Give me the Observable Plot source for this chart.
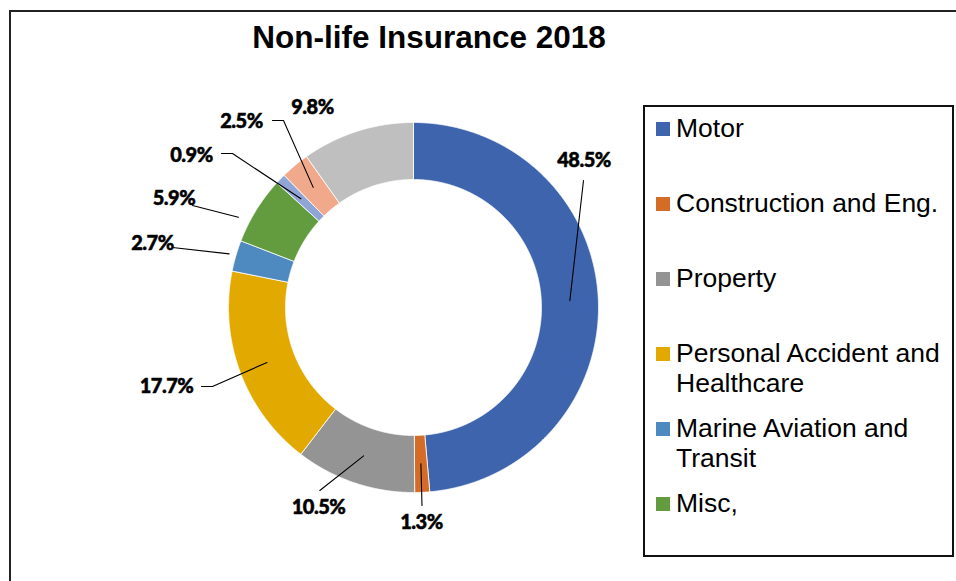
<!DOCTYPE html>
<html>
<head>
<meta charset="utf-8">
<script src="https://cdn.jsdelivr.net/npm/d3@7"></script>
<script src="https://cdn.jsdelivr.net/npm/@observablehq/plot@0.6"></script>
<style>
  html, body { margin: 0; padding: 0; background: #fff; }
  body { width: 956px; height: 581px; overflow: hidden; position: relative; font-family: "Liberation Sans", Arial, sans-serif; }
  #frame { position: absolute; left: 9px; top: 10px; width: 1000px; height: 700px; border-left: 2px solid #222; border-top: 2px solid #222; }
  #chart { position: absolute; left: 0; top: 0; }
  #chart g[aria-label="text"] text { letter-spacing: -0.5px; }
  #title { position: absolute; left: 0; top: 19px; width: 858px; text-align: center; font-weight: bold; font-size: 31.5px; line-height: 36px; color: #000; white-space: nowrap; }
  #legend { position: absolute; left: 643px; top: 105px; width: 311px; height: 452px; border: 2px solid #111; box-sizing: border-box; background: #fff; }
  .item { position: absolute; left: 31px; width: 274px; font-size: 26.5px; line-height: 30px; color: #000; }
  .sw { position: absolute; left: -20px; top: 9px; width: 14px; height: 14px; }
</style>
</head>
<body>
<div id="frame"></div>
<div id="chart"></div>
<div id="title">Non-life Insurance 2018</div>
<div id="legend"></div>
<script>
// ---- data ----
const categories = [
  "Motor",
  "Construction and Eng.",
  "Property",
  "Personal Accident and Healthcare",
  "Marine Aviation and Transit",
  "Misc,",
  "Category 7",
  "Category 8",
  "Category 9"
];
const values = [48.5, 1.3, 10.5, 17.7, 2.7, 5.9, 0.9, 2.5, 9.8];
const legendCount = 6; // legend box shows only the first six entries

// ---- styles ----
const palette = ["#3D64AD", "#D46B27", "#949494", "#E2AA00", "#4E89BF", "#629C3E", "#8FA5D6", "#F1A98B", "#BFBFBF"];
const R_OUT = 185, R_IN = 128, R_MID = (R_OUT + R_IN) / 2;

// label layout (pixel offsets from donut centre): text centre, leader bend points, anchor radius / angle tweak
const labelLayout = [
  {t: [170.5, -146.5], path: [[170, -127]], r: R_MID, da: 0},
  {t: [8, 215.5], path: [[8.5, 198]], r: R_MID, da: 0},
  {t: [-95, 200.5], path: [[-93.7, 183]], r: R_MID, da: 0},
  {t: [-247, 79.5], path: [[-212, 79], [-201, 79]], r: R_MID, da: 0},
  {t: [-261, -63.5], path: [[-241, -60]], r: 192, da: 0},
  {t: [-239.5, -109], path: [[-221, -102]], r: 197, da: -4.5},
  {t: [-222, -152], path: [[-192, -154], [-181, -154]], r: R_MID, da: 0},
  {t: [-172, -185.5], path: [[-141, -187], [-130, -187]], r: R_MID, da: 0},
  {t: [-101, -199.5], path: [], r: null, da: 0}
];

const rows = categories.map((c, i) => ({cat: c, value: values[i]}));
const arcs = d3.pie().sort(null).value(d => d.value)(rows);

const polar = (r, a) => ({x: r * Math.sin(a), y: -r * Math.cos(a)});

const ring = arcs.flatMap(p => {
  const n = Math.max(2, Math.ceil((p.endAngle - p.startAngle) / 0.004));
  const pts = [];
  for (let k = 0; k <= n; k++) pts.push({cat: p.data.cat, ...polar(R_OUT, p.startAngle + (p.endAngle - p.startAngle) * k / n)});
  for (let k = n; k >= 0; k--) pts.push({cat: p.data.cat, ...polar(R_IN, p.startAngle + (p.endAngle - p.startAngle) * k / n)});
  pts.push({...pts[0]});
  return pts;
});

const labels = arcs.map((p, i) => ({
  cat: p.data.cat,
  text: p.data.value.toFixed(1) + "%",
  x: labelLayout[i].t[0],
  y: labelLayout[i].t[1]
}));

const leaders = arcs.flatMap((p, i) => {
  const L = labelLayout[i];
  if (!L.path.length) return [];
  const mid = (p.startAngle + p.endAngle) / 2 + L.da * Math.PI / 180;
  const a = polar(L.r, mid);
  return [...L.path.map(([x, y]) => ({id: i, x, y})), {id: i, x: a.x, y: a.y}];
});

const chart = Plot.plot({
  width: 956,
  height: 581,
  margin: 0,
  style: {background: "none", overflow: "visible"},
  x: {domain: [-413, 543], range: [0, 956], axis: null},
  y: {domain: [-307, 274], range: [0, 581], axis: null},
  color: {domain: categories, range: palette},
  marks: [
    Plot.line(ring, {x: "x", y: "y", z: "cat", fill: "cat", stroke: "white", strokeWidth: 0.8, curve: "linear"}),
    Plot.line(leaders, {x: "x", y: "y", z: "id", stroke: "#000", strokeWidth: 1.1, curve: "linear"}),
    Plot.text(labels, {x: "x", y: "y", text: "text", fill: "#000", stroke: "#000", strokeWidth: 0.5, fontSize: 20, fontWeight: 900, fontFamily: "Lato, 'Open Sans', sans-serif", textAnchor: "middle", lineAnchor: "middle"})
  ]
});
document.getElementById("chart").appendChild(chart);

// ---- legend ----
const legend = document.getElementById("legend");
categories.slice(0, legendCount).forEach((c, i) => {
  const item = document.createElement("div");
  item.className = "item";
  item.style.top = (6 + i * 75) + "px";
  const sw = document.createElement("span");
  sw.className = "sw";
  sw.style.background = chart.scale("color").apply(c);
  item.appendChild(sw);
  item.appendChild(document.createTextNode(c));
  legend.appendChild(item);
});
</script>
</body>
</html>
